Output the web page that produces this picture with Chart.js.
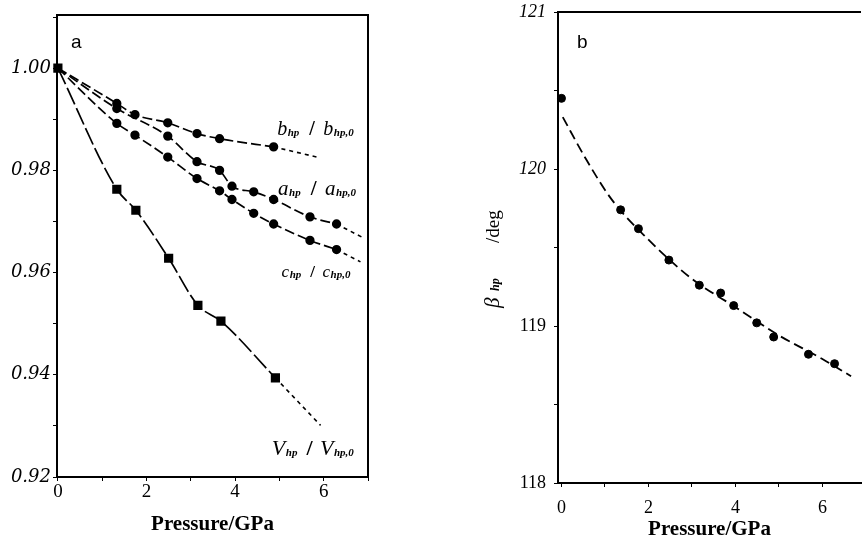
<!DOCTYPE html>
<html>
<head>
<meta charset="utf-8">
<script src="https://cdn.jsdelivr.net/npm/chart.js@4.4.0/dist/chart.umd.min.js"></script>
<style>
  html, body { margin: 0; padding: 0; background: #fff; }
  #wrap { position: relative; width: 866px; height: 542px; overflow: hidden; }
  #chart-a { position: absolute; left: 0; top: 0; }
  #chart-b { position: absolute; left: 440px; top: 0; }
</style>
</head>
<body>
<div id="wrap">
  <canvas id="chart-a" width="440" height="542"></canvas>
  <canvas id="chart-b" width="426" height="542"></canvas>
</div>
<script>
// ================= DADOS painel a (razoes da rede) =================
const bP     = [0, 1.33, 1.74, 2.48, 3.14, 3.65, 4.87];
const bRatio = [1.000, 0.9931, 0.9909, 0.9893, 0.9872, 0.9862, 0.9846];
const bExtP  = [4.87, 5.85];
const bExt   = [0.9846, 0.9826];

const aP     = [0, 1.33, 2.48, 3.14, 3.65, 3.93, 4.42, 4.87, 5.69, 6.29];
const aRatio = [1.000, 0.9921, 0.9867, 0.9817, 0.9800, 0.9769, 0.9758, 0.9743, 0.9709, 0.9695];
const aExtP  = [6.29, 6.87];
const aExt   = [0.9695, 0.9669];

const cP     = [0, 1.33, 1.74, 2.48, 3.14, 3.65, 3.93, 4.42, 4.87, 5.69, 6.29];
const cRatio = [1.000, 0.9892, 0.9869, 0.9826, 0.9784, 0.9760, 0.9743, 0.9716, 0.9695, 0.9663, 0.9645];
const cExtP  = [6.29, 6.83];
const cExt   = [0.9645, 0.9621];

const vP     = [0, 1.33, 1.76, 2.50, 3.16, 3.68, 4.91];
const vRatio = [1.000, 0.9763, 0.9722, 0.9628, 0.9536, 0.9505, 0.9394];
const vExtP  = [4.91, 5.93];
const vExt   = [0.9394, 0.9301];

// ================= DADOS painel b (angulo beta) =================
const betaP   = [0, 1.36, 1.77, 2.47, 3.17, 3.66, 3.96, 4.49, 4.88, 5.68, 6.28];
const betaDeg = [120.45, 119.74, 119.62, 119.42, 119.26, 119.21, 119.13, 119.02, 118.93, 118.82, 118.76];
// curva ajustada
const fitP    = [0.03, 0.57, 1.17, 2.0, 3.0, 4.0, 5.0, 6.0, 6.66];
const fitDeg  = [120.33, 120.06, 119.80, 119.55, 119.30, 119.12, 118.94, 118.79, 118.68];

const xTicksA = [0, 2, 4, 6];
const yTicksA = [0.92, 0.94, 0.96, 0.98, 1.00];
const yTicksB = [118, 119, 120, 121];

const SERIF = '"Liberation Serif", "Times New Roman", serif';
const SANS = '"Liberation Sans", Arial, sans-serif';

const pares = (xs, ys) => xs.map((x, i) => ({ x: x, y: ys[i] }));

// ================= ROTULOS COM SUBSCRITO =================
function desenharRazao(ctx, x, y, r) {
  const main = `italic ${r.size}px ${SERIF}`;
  const sub = `italic bold ${r.sub}px ${SERIF}`;
  const partes = [
    [r.sym, main, 0, 0], ["hp", sub, 1, r.gap],
    ["/", `bold ${r.size}px ${SERIF}`, 0, r.gap - 2],
    [r.sym, main, 0, 0], ["hp,0", sub, 1, 0]
  ];
  partes.forEach(([t, f, isSub, depois]) => {
    ctx.font = f;
    ctx.fillText(t, x, y + isSub);
    x += ctx.measureText(t).width + depois + (isSub ? 0 : 0.5);
  });
}

const rotulosA = [
  { sym: "b", x: 4.95, y: 0.9869, size: 20, sub: 11, gap: 10 },
  { sym: "a", x: 4.97, y: 0.97515, size: 21, sub: 11, gap: 10 },
  { sym: "c", x: 5.05, y: 0.9591, size: 17, sub: 11, gap: 9 },
  { sym: "V", x: 4.83, y: 0.9243, size: 22, sub: 11, gap: 9 }
];

const molduraA = {
  id: "molduraA",
  afterDraw(chart) {
    const { ctx, chartArea: ca, scales } = chart;
    ctx.save();
    ctx.strokeStyle = "#000";
    ctx.lineWidth = 2;
    ctx.beginPath();
    ctx.moveTo(ca.left, ca.top);
    ctx.lineTo(ca.right, ca.top);
    ctx.lineTo(ca.right, ca.bottom);
    ctx.stroke();
    ctx.fillStyle = "#000";
    ctx.textBaseline = "alphabetic";
    ctx.font = `19px ${SANS}`;
    ctx.fillText("a", 71, 48);
    rotulosA.forEach(r => {
      desenharRazao(ctx, scales.x.getPixelForValue(r.x), scales.y.getPixelForValue(r.y), r);
    });
    ctx.restore();
  }
};

const molduraB = {
  id: "molduraB",
  afterDraw(chart) {
    const { ctx, chartArea: ca } = chart;
    ctx.save();
    ctx.strokeStyle = "#000";
    ctx.lineWidth = 2;
    ctx.beginPath();
    ctx.moveTo(ca.left, ca.top);
    ctx.lineTo(ca.right, ca.top);
    ctx.stroke();
    ctx.fillStyle = "#000";
    ctx.font = `19px ${SANS}`;
    ctx.fillText("b", 137, 48);

    // titulo do eixo y: beta_hp /deg
    ctx.translate(55, 262);
    ctx.rotate(-Math.PI / 2);
    ctx.font = `italic 21px ${SERIF}`;
    ctx.fillText("\u03b2", -46, 4);
    ctx.font = `italic bold 12px ${SERIF}`;
    ctx.fillText("hp", -29, 4);
    ctx.font = `19px ${SERIF}`;
    ctx.fillText("/deg", 19, 4);
    ctx.restore();
  }
};

const serieA = (xs, ys, forma, raio, dash) => ({
  data: pares(xs, ys),
  showLine: true,
  borderColor: "#000",
  backgroundColor: "#000",
  borderWidth: 1.7,
  borderDash: dash,
  pointStyle: forma,
  pointRadius: raio,
  pointHoverRadius: raio,
  cubicInterpolationMode: "monotone",
  clip: false
});

const extensao = (xs, ys) => ({
  data: pares(xs, ys),
  showLine: true,
  borderColor: "#000",
  borderWidth: 1.6,
  borderDash: [4, 4],
  pointRadius: 0,
  clip: false
});

const semPadding = s => { s.paddingTop = 0; s.paddingBottom = 0; s.paddingLeft = 0; s.paddingRight = 0; };

// ================= GRAFICO a =================
new Chart(document.getElementById("chart-a"), {
  type: "scatter",
  data: {
    datasets: [
      serieA(bP, bRatio, "circle", ctx => ctx.dataIndex === 0 ? 0 : 3.8, [10, 4]),
      extensao(bExtP, bExt),
      serieA(aP, aRatio, "circle", ctx => ctx.dataIndex === 0 ? 0 : 3.8, [10, 4]),
      extensao(aExtP, aExt),
      serieA(cP, cRatio, "circle", ctx => ctx.dataIndex === 0 ? 0 : 3.8, [10, 4]),
      extensao(cExtP, cExt),
      serieA(vP, vRatio, "rect", 5.3, [18, 4]),
      extensao(vExtP, vExt)
    ]
  },
  options: {
    responsive: false,
    animation: false,
    layout: { padding: { top: 15, right: 72, left: 0, bottom: 0 } },
    plugins: { legend: { display: false }, tooltip: { enabled: false } },
    scales: {
      x: {
        type: "linear",
        min: -0.02,
        max: 7,
        afterFit: s => { s.height = 65; semPadding(s); },
        afterBuildTicks: s => { s.ticks = [0, 1, 2, 3, 4, 5, 6, 7].map(v => ({ value: v })); },
        ticks: {
          callback: v => xTicksA.includes(v) ? String(v) : "",
          color: "#000",
          padding: 0,
          font: { family: SERIF, size: 19 }
        },
        grid: { drawOnChartArea: false, color: "#000", tickLength: 4, lineWidth: 1 },
        border: { color: "#000", width: 2 },
        title: {
          display: true,
          text: "Pressure/GPa",
          color: "#000",
          padding: { top: 0, bottom: 5 },
          font: { family: SERIF, size: 21, weight: "bold" }
        }
      },
      y: {
        type: "linear",
        min: 0.92,
        max: 1.0104,
        afterFit: s => { s.width = 57; semPadding(s); },
        afterBuildTicks: s => {
          const t = [];
          for (let i = 92; i <= 101; i++) t.push({ value: i / 100 });
          s.ticks = t;
        },
        ticks: {
          callback: v => yTicksA.some(t => Math.abs(t - v) < 1e-6) ? v.toFixed(2) : "",
          color: "#000",
          padding: 2,
          font: { family: '"DejaVu Serif", serif', size: 18, style: "italic" }
        },
        grid: { drawOnChartArea: false, color: "#000", tickLength: 4, lineWidth: 1 },
        border: { color: "#000", width: 2 }
      }
    }
  },
  plugins: [molduraA]
});

// ================= GRAFICO b =================
new Chart(document.getElementById("chart-b"), {
  type: "scatter",
  data: {
    datasets: [
      {
        data: pares(betaP, betaDeg),
        backgroundColor: "#000",
        borderColor: "#000",
        pointStyle: "circle",
        pointRadius: 4,
        showLine: false,
        clip: false
      },
      {
        data: pares(fitP, fitDeg),
        showLine: true,
        borderColor: "#000",
        borderWidth: 1.8,
        borderDash: [10, 5],
        pointRadius: 0,
        cubicInterpolationMode: "monotone"
      }
    ]
  },
  options: {
    responsive: false,
    animation: false,
    layout: { padding: { top: 12, right: 0, left: 0, bottom: 0 } },
    plugins: { legend: { display: false }, tooltip: { enabled: false } },
    scales: {
      x: {
        type: "linear",
        min: -0.08,
        max: 6.888,
        afterFit: s => { s.height = 59; semPadding(s); },
        afterBuildTicks: s => { s.ticks = [0, 1, 2, 3, 4, 5, 6].map(v => ({ value: v })); },
        ticks: {
          callback: v => v % 2 === 0 ? String(v) : "",
          color: "#000",
          padding: 10,
          font: { family: SERIF, size: 18 }
        },
        grid: { drawOnChartArea: false, color: "#000", tickLength: 4, lineWidth: 1 },
        border: { color: "#000", width: 2 },
        title: {
          display: true,
          text: "Pressure/GPa",
          color: "#000",
          padding: { top: 0, bottom: 0 },
          font: { family: SERIF, size: 21, weight: "bold" }
        }
      },
      y: {
        type: "linear",
        min: 118,
        max: 121,
        afterFit: s => { s.width = 118; semPadding(s); },
        afterBuildTicks: s => { s.ticks = [118, 118.5, 119, 119.5, 120, 120.5, 121].map(v => ({ value: v })); },
        ticks: {
          callback: v => yTicksB.includes(v) ? String(v) : "",
          color: "#000",
          padding: 8,
          font: ctx => ({ family: SERIF, size: 18, style: ctx.tick && ctx.tick.value >= 120 ? "italic" : "normal" })
        },
        grid: { drawOnChartArea: false, color: "#000", tickLength: 4, lineWidth: 1 },
        border: { color: "#000", width: 2 }
      }
    }
  },
  plugins: [molduraB]
});
</script>
</body>
</html>
